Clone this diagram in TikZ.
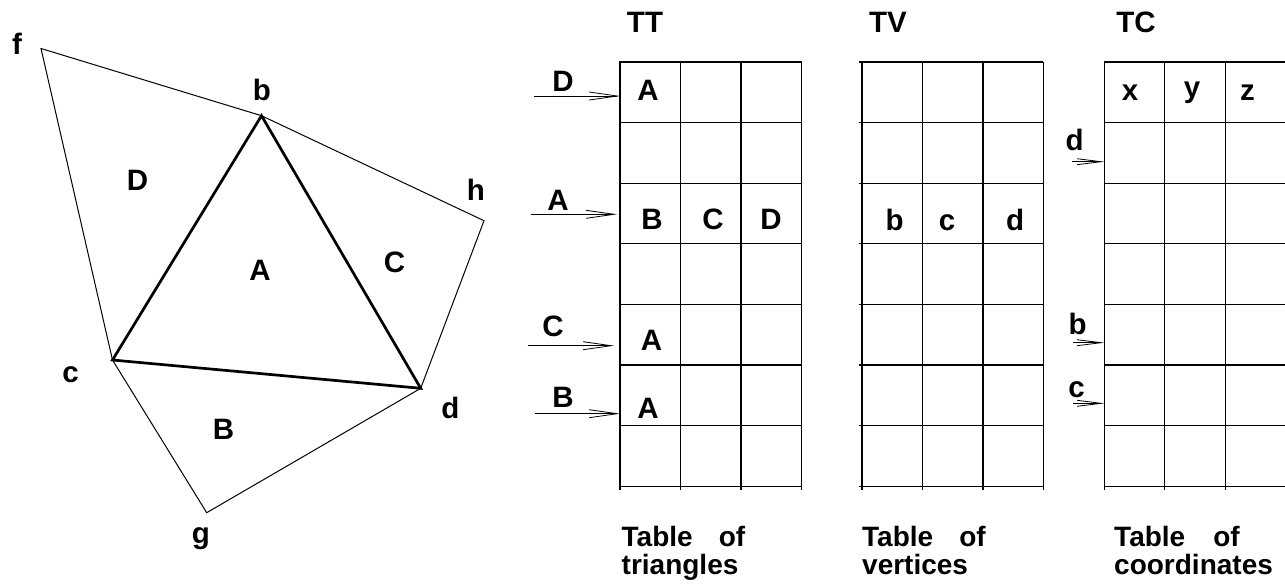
\documentclass[tikz,border=0pt]{standalone}
\usepackage{fontspec}
\setmainfont{Liberation Sans}
\usetikzlibrary{arrows.meta}
\begin{document}
\begin{tikzpicture}[x=1pt,y=-1pt,
  lbl/.style={font=\fontsize{29.5}{29.5}\selectfont\bfseries, inner sep=0pt},
  captext/.style={font=\fontsize{28}{28}\selectfont\bfseries, inner sep=0pt, anchor=base west},
  edgeline/.style={line width=1pt, line join=miter},
  triline/.style={line width=2.7pt, line join=miter},
  gridline/.style={line width=1.2pt},
  ptr/.style={line width=1pt, -{Straight Barb[length=28pt,width=8pt,line width=0.8pt]}},
  sptr/.style={line width=1pt, -{Straight Barb[length=24pt,width=6pt,line width=0.8pt]}}]
\useasboundingbox (0,0) rectangle (1285,584);

% ---------- mesh ----------
\coordinate (f) at (41,48.5);
\coordinate (b) at (261.5,115.7);
\coordinate (h) at (484,220.7);
\coordinate (d) at (420.7,388.3);
\coordinate (g) at (206.7,512.7);
\coordinate (c) at (112.5,360);
\draw[edgeline] (f) -- (b) -- (h) -- (d) -- (g) -- (c) -- cycle;
\draw[triline] (b) -- (c) -- (d) -- cycle;

\node[lbl] (lf) at (17,44) {f};
\node[lbl] (lb) at (262,90) {b};
\node[lbl] (lh) at (476,190) {h};
\node[lbl] (lc) at (70.5,375) {c};
\node[lbl] (ld) at (450.5,407.5) {d};
\node[lbl] (lg) at (201,539) {g};
\node[lbl] (tA) at (260,270) {A};
\node[lbl] (tB) at (223.5,429.5) {B};
\node[lbl] (tC) at (394.5,262) {C};
\node[lbl] (tD) at (137.5,180) {D};

% ---------- tables ----------
\foreach \x in {620,680.5,741,801.5}
  \draw[gridline] (\x,62) -- (\x,490);
\foreach \i in {0,...,7}
  \draw[gridline] (619,{62+60.6*\i}) -- (801.5,{62+60.6*\i});

\foreach \x in {862,922.5,983,1043.3}
  \draw[gridline] (\x,62) -- (\x,490);
\foreach \i in {0,...,7}
  \draw[gridline] (859,{62+60.6*\i}) -- (1043.3,{62+60.6*\i});

\foreach \x in {1104.3,1164.7,1225.3}
  \draw[gridline] (\x,62) -- (\x,490);
\foreach \i in {0,...,7}
  \draw[gridline] (1104.3,{62+60.6*\i}) -- (1286,{62+60.6*\i});

% titles
\node[lbl] (TT) at (645,22) {TT};
\node[lbl] (TV) at (888,22) {TV};
\node[lbl] (TC) at (1136,22) {TC};

% TT contents
\node[lbl] (tt1) at (648,90.5) {A};
\node[lbl] (tt3a) at (652,219.5) {B};
\node[lbl] (tt3b) at (713,219.5) {C};
\node[lbl] (tt3c) at (771,219.5) {D};
\node[lbl] (tt5) at (651.5,340.5) {A};
\node[lbl] (tt6) at (648,408) {A};

% TV contents
\node[lbl] (tv1) at (894.5,220) {b};
\node[lbl] (tv2) at (947,222.5) {c};
\node[lbl] (tv3) at (1015,220) {d};

% TC contents
\node[lbl] (tcx) at (1130,93) {x};
\node[lbl] (tcy) at (1192,92.5) {y};
\node[lbl] (tcz) at (1247.5,93) {z};

% TT pointers
\node[lbl] (pD) at (563,81.5) {D};
\coordinate (pDs) at (534,96);
\coordinate (pDe) at (620,96);
\draw[ptr] (pDs) -- (pDe);
\node[lbl] (pA) at (558,200) {A};
\coordinate (pAs) at (531,214.3);
\coordinate (pAe) at (617,214.3);
\draw[ptr] (pAs) -- (pAe);
\node[lbl] (pC) at (553,326.5) {C};
\coordinate (pCs) at (527.7,345.7);
\coordinate (pCe) at (614,345.7);
\draw[ptr] (pCs) -- (pCe);
\node[lbl] (pB) at (563,397.5) {B};
\coordinate (pBs) at (534.7,413.7);
\coordinate (pBe) at (620,413.7);
\draw[ptr] (pBs) -- (pBe);

% TC pointers
\node[lbl] (qd) at (1074.5,140) {d};
\coordinate (qds) at (1072.3,161.7);
\coordinate (qde) at (1104.3,161.7);
\draw[sptr] (qds) -- (qde);
\node[lbl] (qb) at (1077.5,324) {b};
\coordinate (qbs) at (1072.7,342.7);
\coordinate (qbe) at (1104.3,342.7);
\draw[sptr] (qbs) -- (qbe);
\node[lbl] (qc) at (1076.5,389.5) {c};
\coordinate (qcs) at (1072.7,403.3);
\coordinate (qce) at (1104.3,403.3);
\draw[sptr] (qcs) -- (qce);

% captions
\node[captext] (c1a) at (621.5,546.7) {Table\hspace{26pt}of};
\node[captext] (c1b) at (621.5,574.5) {triangles};
\node[captext] (c2a) at (862,546.7) {Table\hspace{26pt}of};
\node[captext] (c2b) at (862,574.5) {vertices};
\node[captext] (c3a) at (1114,546.7) {Table\hspace{28pt}of};
\node[captext] (c3b) at (1114,574.5) {coordinates};
\end{tikzpicture}
\end{document}
